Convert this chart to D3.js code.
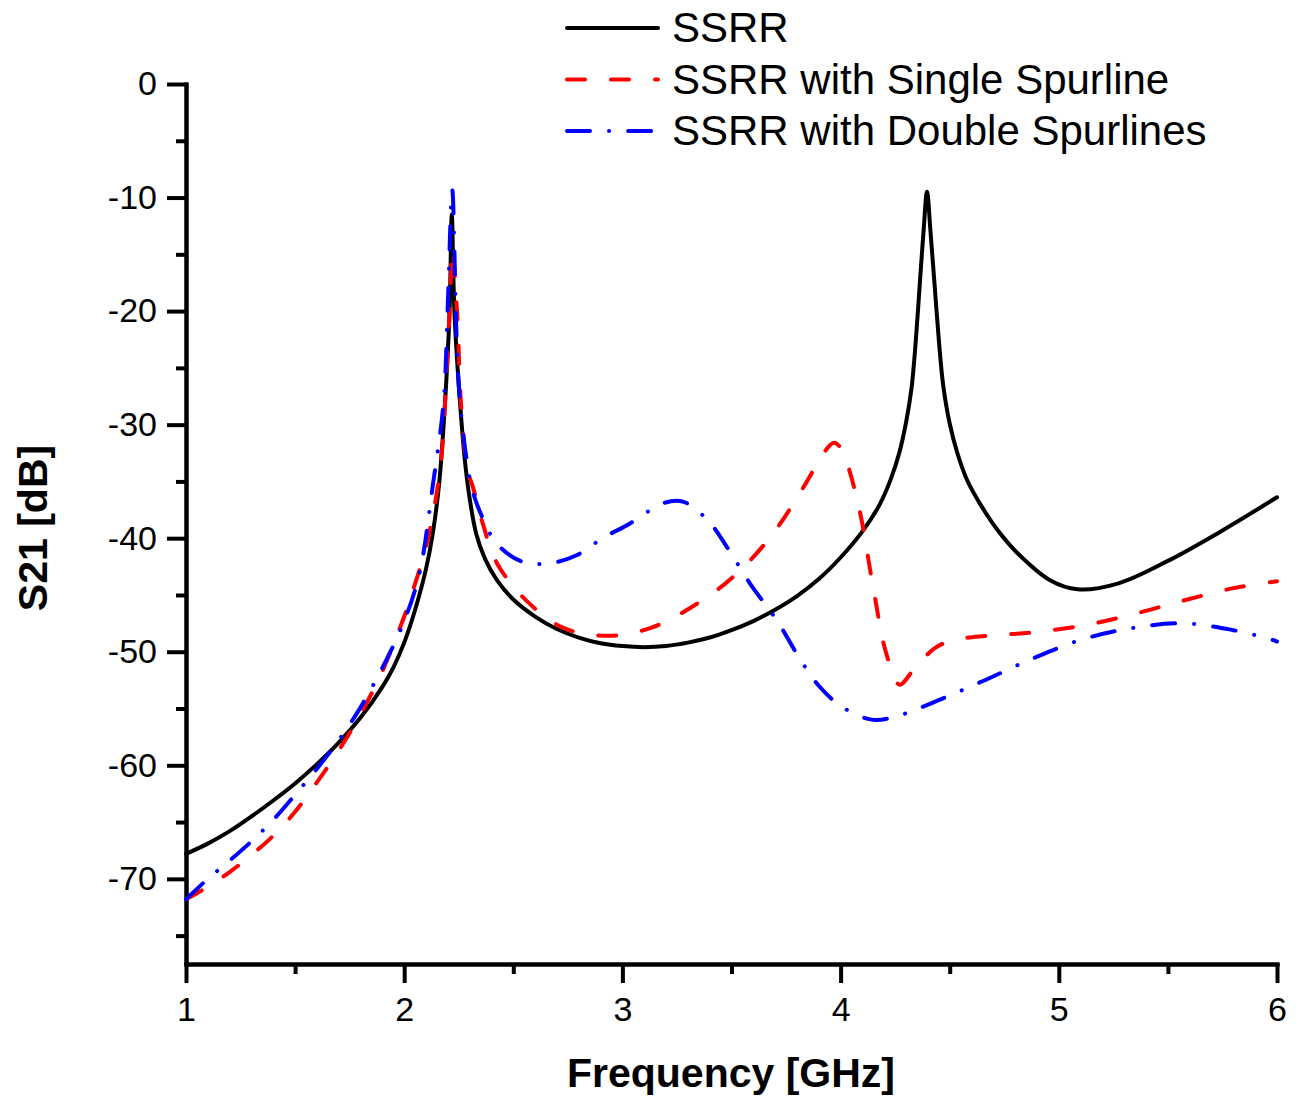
<!DOCTYPE html>
<html>
<head>
<meta charset="utf-8">
<script src="https://cdn.jsdelivr.net/npm/d3@7"></script>
<style>
  body { margin: 0; background: #fff; }
  text { font-family: "Liberation Sans", Arial, sans-serif; }
</style>
</head>
<body>
<div id="chart"></div>
<script>
// S21 of the three resonators (GHz, dB)
const ssrrFreq = [1.0, 1.1, 1.2, 1.3, 1.4, 1.5, 1.6, 1.7, 1.8, 1.9, 1.95, 2.0, 2.05, 2.1, 2.13, 2.16, 2.187, 2.208, 2.218, 2.23, 2.256, 2.28, 2.3, 2.33, 2.37, 2.425, 2.5, 2.6, 2.7, 2.8, 2.9, 3.0, 3.1, 3.2, 3.3, 3.4, 3.5, 3.6, 3.7, 3.8, 3.9, 4.0, 4.1, 4.18, 4.23, 4.27, 4.3, 4.325, 4.345, 4.365, 4.38, 4.396, 4.412, 4.43, 4.45, 4.47, 4.5, 4.535, 4.58, 4.64, 4.72, 4.81, 4.96, 5.085, 5.27, 5.5, 5.725, 6.0];
const ssrrDb = [-67.8, -66.9, -65.8, -64.5, -63.1, -61.6, -59.9, -58.0, -55.8, -53.1, -51.4, -49.2, -46.3, -42.7, -39.7, -35.2, -28.1, -20.0, -11.5, -20.0, -28.1, -33.5, -36.5, -39.6, -41.8, -43.7, -45.4, -46.9, -48.0, -48.75, -49.25, -49.5, -49.6, -49.5, -49.2, -48.75, -48.1, -47.3, -46.3, -45.1, -43.6, -41.7, -39.4, -37.0, -34.8, -32.4, -29.8, -26.8, -22.5, -17.0, -13.0, -9.5, -13.0, -17.5, -22.5, -26.5, -29.9, -32.5, -34.9, -37.0, -39.3, -41.3, -43.7, -44.5, -44.0, -42.0, -39.6, -36.4];

const singleFreq = [1.0, 1.1, 1.2, 1.3, 1.4, 1.5, 1.6, 1.7, 1.8, 1.9, 2.0, 2.05, 2.1, 2.164, 2.195, 2.21, 2.222, 2.235, 2.245, 2.26, 2.29, 2.315, 2.36, 2.425, 2.56, 2.73, 2.94, 3.13, 3.34, 3.525, 3.69, 3.83, 3.93, 3.97, 4.01, 4.04, 4.09, 4.15, 4.21, 4.27, 4.33, 4.43, 4.515, 4.67, 4.88, 5.11, 5.34, 5.57, 5.8, 6.0];
const singleDb = [-71.8, -70.7, -69.4, -67.9, -66.2, -64.1, -61.5, -58.7, -55.5, -51.7, -46.9, -44.0, -40.8, -34.0, -25.2, -19.0, -14.5, -18.0, -21.0, -28.1, -34.0, -35.5, -38.7, -42.2, -45.5, -47.9, -48.6, -47.9, -45.8, -43.1, -39.6, -35.5, -32.3, -31.6, -32.3, -34.0, -37.8, -44.4, -50.2, -52.9, -51.7, -49.7, -49.0, -48.6, -48.3, -47.7, -46.7, -45.5, -44.4, -43.8];

const doubleFreq = [1.0, 1.1, 1.2, 1.3, 1.4, 1.5, 1.6, 1.7, 1.8, 1.9, 2.0, 2.07, 2.13, 2.18, 2.2, 2.22, 2.24, 2.256, 2.29, 2.31, 2.35, 2.425, 2.545, 2.67, 2.79, 2.91, 3.035, 3.19, 3.28, 3.39, 3.48, 3.585, 3.71, 3.8, 3.9, 4.01, 4.15, 4.27, 4.42, 4.65, 4.88, 5.11, 5.34, 5.57, 5.8, 5.97, 6.0];
const doubleDb = [-71.8, -70.0, -68.4, -66.7, -64.8, -62.6, -60.3, -57.8, -54.9, -51.4, -47.3, -43.1, -35.5, -28.1, -19.3, -9.3, -22.3, -28.1, -33.6, -35.6, -37.8, -40.5, -42.1, -42.2, -41.5, -40.0, -38.7, -36.9, -36.8, -38.4, -40.8, -44.0, -47.3, -50.2, -53.0, -54.9, -56.0, -55.6, -54.5, -52.6, -50.6, -48.9, -47.9, -47.5, -48.1, -48.9, -49.1];

const seriesNames = ["SSRR", "SSRR with Single Spurline", "SSRR with Double Spurlines"];
const xMajorTicks = [1, 2, 3, 4, 5, 6];
const xMinorTicks = [1.5, 2.5, 3.5, 4.5, 5.5];
const yMajorTicks = [0, -10, -20, -30, -40, -50, -60, -70];
const yMinorTicks = [-5, -15, -25, -35, -45, -55, -65, -75];

const width = 1299;
const height = 1097;
const plot = { left: 186, right: 1277, top: 84, bottom: 964 };

const styles = [
  { color: "#000000", dash: null },
  { color: "#ff0000", dash: "18,26" },
  { color: "#0000ff", dash: "23,19,0.1,19" }
];

const series = [
  ssrrFreq.map((f, i) => ({ f: f, db: ssrrDb[i] })),
  singleFreq.map((f, i) => ({ f: f, db: singleDb[i] })),
  doubleFreq.map((f, i) => ({ f: f, db: doubleDb[i] }))
];

const svg = d3.select("#chart")
  .append("svg")
  .attr("width", width)
  .attr("height", height);

const x = d3.scaleLinear().domain([1, 6]).range([plot.left, plot.right]);
const y = d3.scaleLinear().domain([-77.5, 0]).range([plot.bottom, plot.top]);

// plain hyphen for negatives, like the original
const plainNumber = (d) => String(d);

function styleAxis(g) {
  g.select(".domain").attr("stroke-width", 4).attr("stroke-linecap", "square");
  g.selectAll(".tick line").attr("stroke-width", 4);
  g.selectAll(".tick text")
    .attr("font-size", 34)
    .attr("font-family", "'Liberation Sans', Arial, sans-serif")
    .attr("fill", "#000");
}

// minor ticks first, majors on top
svg.append("g")
  .attr("transform", `translate(0,${plot.bottom})`)
  .call(d3.axisBottom(x).tickValues(xMinorTicks).tickSize(10).tickSizeOuter(0).tickFormat(""))
  .call(styleAxis);

svg.append("g")
  .attr("transform", `translate(0,${plot.bottom})`)
  .call(d3.axisBottom(x).tickValues(xMajorTicks).tickSize(19).tickSizeOuter(0).tickPadding(14).tickFormat(plainNumber))
  .call(styleAxis);

svg.append("g")
  .attr("transform", `translate(${plot.left},0)`)
  .call(d3.axisLeft(y).tickValues(yMinorTicks).tickSize(10).tickSizeOuter(0).tickFormat(""))
  .call(styleAxis);

svg.append("g")
  .attr("transform", `translate(${plot.left},0)`)
  .call(d3.axisLeft(y).tickValues(yMajorTicks).tickSize(19).tickSizeOuter(0).tickPadding(10).tickFormat(plainNumber))
  .call(styleAxis);

// axis titles
svg.append("text")
  .attr("x", 731)
  .attr("y", 1087)
  .attr("text-anchor", "middle")
  .attr("font-size", 41)
  .attr("font-weight", "bold")
  .text("Frequency [GHz]");

svg.append("text")
  .attr("transform", "translate(47,528) rotate(-90)")
  .attr("text-anchor", "middle")
  .attr("font-size", 41)
  .attr("font-weight", "bold")
  .text("S21 [dB]");

const line = d3.line()
  .x((d) => x(d.f))
  .y((d) => y(d.db))
  .curve(d3.curveCatmullRom.alpha(0.5));

svg.append("g")
  .selectAll("path")
  .data(series)
  .join("path")
  .attr("d", line)
  .attr("fill", "none")
  .attr("stroke", (d, i) => styles[i].color)
  .attr("stroke-width", 4)
  .attr("stroke-linejoin", "round")
  .attr("stroke-linecap", "round")
  .attr("stroke-dasharray", (d, i) => styles[i].dash);

// legend
const legend = svg.append("g")
  .selectAll("g")
  .data(seriesNames)
  .join("g")
  .attr("transform", (d, i) => `translate(0,${28 + i * 51.5})`);

legend.append("line")
  .attr("x1", 567)
  .attr("x2", 658)
  .attr("stroke", (d, i) => styles[i].color)
  .attr("stroke-width", 4)
  .attr("stroke-linecap", "round")
  .attr("stroke-dasharray", (d, i) => styles[i].dash);

legend.append("text")
  .attr("x", 672)
  .attr("y", 14)
  .attr("font-size", 42)
  .attr("fill", "#000")
  .text((d) => d);
</script>
</body>
</html>
